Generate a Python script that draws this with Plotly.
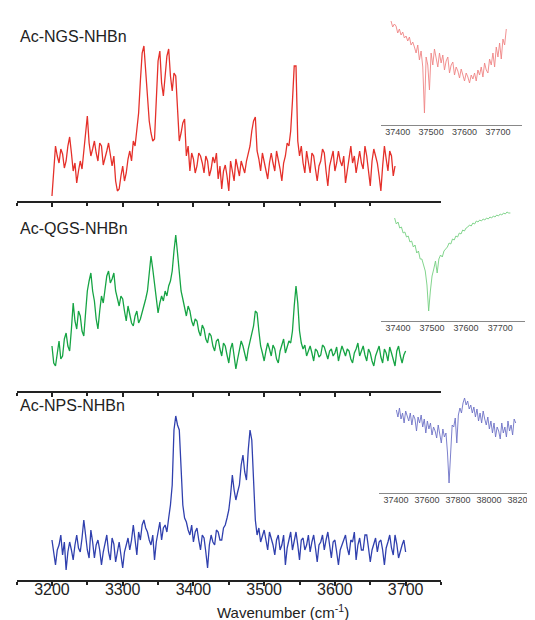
import plotly.graph_objects as go

# ---------------- data ----------------
# main spectra: values read at every 5 cm-1 (main) and at the 2.5 cm-1 midpoints (mid)
wn_start, wn_step = 3200, 5

red_ngs_main = [5, 55, 38, 47, 40, 64, 30, 18, 40, 52, 85, 45, 60, 40, 55, 42, 58, 35, 20, 12,
                35, 28, 50, 60, 72, 120, 155, 95, 68, 62, 140, 118, 130, 152, 110, 125, 60, 78, 45, 30,
                42, 35, 45, 28, 40, 32, 38, 22, 12, 36, 10, 30, 42, 25, 35, 40, 55, 80, 50, 30,
                40, 22, 48, 30, 42, 20, 45, 55, 100, 135, 45, 38, 50, 28, 45, 20, 40, 48, 15, 42,
                30, 50, 35, 18, 45, 38, 28, 50, 32, 45, 15, 52, 38, 10, 55, 30, 45, 35]
red_ngs_mid = [30, 45, 52, 33, 55, 48, 38, 30, 32, 70, 58, 52, 48, 58, 36, 50, 45, 45, 10, 25,
               20, 42, 40, 55, 88, 148, 130, 80, 60, 100, 150, 105, 145, 125, 128, 90, 68, 82, 55, 48,
               28, 48, 38, 45, 25, 44, 48, 35, 30, 25, 40, 20, 35, 40, 28, 48, 70, 84, 42, 48,
               30, 38, 38, 50, 32, 38, 58, 70, 135, 60, 55, 28, 40, 48, 32, 35, 52, 30, 35, 50,
               38, 40, 45, 30, 55, 45, 40, 38, 55, 30, 40, 45, 25, 35, 42, 50, 25]

green_qgs_main = [45, 25, 50, 35, 58, 40, 88, 62, 75, 55, 100, 118, 90, 62, 95, 105, 120, 112, 100, 85,
                  92, 70, 78, 65, 80, 72, 85, 100, 135, 105, 78, 95, 100, 105, 120, 156, 118, 92, 75, 80,
                  65, 70, 55, 62, 48, 55, 40, 52, 35, 45, 28, 48, 22, 40, 45, 30, 50, 65, 78, 45,
                  30, 48, 35, 42, 28, 45, 38, 50, 60, 105, 60, 42, 35, 45, 30, 40, 36, 44, 32, 42,
                  38, 30, 45, 35, 40, 28, 42, 35, 45, 30, 38, 25, 40, 34, 42, 30, 38, 25, 45, 28, 40]
green_qgs_mid = [28, 40, 32, 52, 45, 62, 70, 80, 60, 78, 110, 100, 72, 80, 88, 115, 108, 118, 92, 95,
                 80, 85, 68, 75, 68, 78, 92, 118, 122, 90, 88, 90, 95, 110, 140, 138, 100, 85, 85, 70,
                 72, 60, 66, 52, 58, 45, 50, 42, 48, 36, 42, 35, 32, 50, 38, 42, 58, 80, 60, 38,
                 40, 42, 46, 32, 40, 52, 44, 48, 85, 88, 48, 46, 40, 38, 42, 34, 46, 38, 40, 35,
                 44, 38, 40, 42, 32, 38, 48, 40, 36, 42, 30, 35, 45, 28, 38, 44, 32, 40, 35, 36]

blue_nps_main = [40, 15, 35, 25, 10, 38, 20, 45, 28, 60, 30, 50, 22, 40, 15, 35, 28, 42, 18, 38,
                 12, 35, 30, 55, 25, 40, 60, 48, 35, 20, 50, 40, 55, 62, 95, 164, 150, 75, 58, 45,
                 38, 52, 30, 42, 12, 45, 35, 48, 40, 55, 70, 105, 80, 95, 125, 100, 150, 90, 45, 38,
                 50, 30, 42, 25, 45, 35, 15, 40, 30, 48, 20, 42, 35, 28, 45, 18, 38, 30, 48, 22,
                 40, 15, 35, 45, 25, 38, 20, 42, 30, 45, 18, 35, 28, 40, 15, 38, 32, 45, 22, 35, 28]
blue_nps_mid = [25, 30, 45, 38, 28, 30, 35, 32, 42, 45, 22, 38, 35, 30, 28, 45, 20, 36, 30, 25,
                28, 42, 40, 38, 48, 55, 52, 40, 45, 38, 58, 52, 48, 75, 150, 155, 110, 62, 50, 55,
                48, 40, 45, 28, 35, 38, 50, 40, 52, 62, 85, 90, 88, 115, 108, 130, 140, 60, 52, 45,
                40, 48, 35, 40, 30, 45, 32, 48, 38, 35, 40, 30, 45, 38, 32, 35, 45, 40, 35, 38,
                28, 30, 42, 32, 40, 48, 35, 30, 45, 32, 30, 42, 38, 30, 32, 45, 25, 36, 30, 40]

ins1_start, ins1_step = 37380, 5
inset_ngs = [104, 98, 101, 99, 92, 96, 90, 93, 87, 89, 84, 88, 80, 83, 78, 72, 80, 65, 74, 58,
             12, 68, 60, 35, 72, 60, 76, 66, 58, 72, 62, 70, 55, 64, 68, 52, 60, 63, 50, 58,
             54, 47, 56, 50, 44, 52, 48, 42, 50, 46, 52, 44, 55, 50, 58, 48, 62, 55, 52, 66,
             60, 72, 58, 78, 68, 82, 66, 86, 80, 96]

ins2_start, ins2_step = 37390, 5
inset_qgs = [103, 97, 99, 93, 94, 88, 89, 84, 85, 79, 80, 74, 76, 68, 70, 62, 62, 55, 50, 36,
             10, 30, 45, 52, 60, 48, 62, 66, 64, 70, 72, 74, 78, 77, 82, 81, 85, 84, 88, 87,
             91, 90, 93, 94, 96, 95, 98, 97, 100, 99, 101, 100, 102, 101, 103, 102, 104, 103, 105, 104,
             106, 105, 107, 106, 108, 107, 109, 108, 108]

ins3_start, ins3_step = 37402, 10
inset_nps = [83, 76, 85, 74, 80, 70, 82, 76, 72, 80, 68, 78, 74, 62, 76, 70, 78, 66, 74, 60,
             72, 64, 70, 58, 66, 62, 55, 68, 60, 50, 64, 56, 60, 40, 10, 45, 68, 66, 75, 50,
             78, 85, 80, 90, 95, 88, 92, 84, 88, 80, 86, 76, 84, 72, 80, 70, 82, 74, 68, 76,
             64, 72, 60, 70, 56, 66, 62, 54, 70, 60, 66, 56, 72, 62, 68, 58, 74, 70]

labels = ["Ac-NGS-NHBn", "Ac-QGS-NHBn", "Ac-NPS-NHBn"]
main_ticks = [3200, 3300, 3400, 3500, 3600, 3700]
ins12_ticks = [37400, 37500, 37600, 37700]
ins3_ticks = [37400, 37600, 37800, 38000, 38200]

# ---------------- helpers ----------------
W, H = 535, 620
def px(x):
    return x / W
def py(y):
    return 1 - y / H

def grid(start, step, vals):
    return [start + i * step for i in range(len(vals))]

def interleave(start, step, main, mid):
    xs, ys = [], []
    for i, v in enumerate(main):
        xs.append(start + i * step)
        ys.append(v)
        if i < len(mid) and i < len(main) - 1:
            xs.append(start + i * step + step / 2)
            ys.append(mid[i])
    return xs, ys

fig = go.Figure()

main_series = [(red_ngs_main, red_ngs_mid, "#e5302a"),
               (green_qgs_main, green_qgs_mid, "#16a444"),
               (blue_nps_main, blue_nps_mid, "#3040ae")]
inset_series = [(inset_ngs, ins1_start, ins1_step, "#ef8585"),
                (inset_qgs, ins2_start, ins2_step, "#74cf80"),
                (inset_nps, ins3_start, ins3_step, "#6d72c6")]

for i, (mn, md, col) in enumerate(main_series):
    n = i + 1
    xs, ys = interleave(wn_start, wn_step, mn, md)
    fig.add_trace(go.Scatter(x=xs, y=ys, mode="lines",
                             line=dict(color=col, width=1.3),
                             xaxis="x" if n == 1 else f"x{n}", yaxis="y" if n == 1 else f"y{n}",
                             showlegend=False))
for i, (vals, s, st, col) in enumerate(inset_series):
    n = i + 4
    fig.add_trace(go.Scatter(x=grid(s, st, vals), y=vals, mode="lines",
                             line=dict(color=col, width=0.9),
                             xaxis=f"x{n}", yaxis=f"y{n}", showlegend=False))

FONT = "Arial, Liberation Sans, Helvetica, sans-serif"
# main panels: (bottom_px, top_px)
panels = [(193, 3), (383, 193), (572, 383)]
main_dom = [px(8.6), px(433)]
layout = {}
for i, (b, t) in enumerate(panels):
    n = i + 1
    xk = "xaxis" if n == 1 else f"xaxis{n}"
    yk = "yaxis" if n == 1 else f"yaxis{n}"
    ya = "y" if n == 1 else f"y{n}"
    layout[xk] = dict(domain=main_dom, range=[3150, 3750], anchor=ya,
                      showline=True, linecolor="#222", linewidth=1.5,
                      ticks="outside", ticklen=4, tickwidth=1.5, tickcolor="#222",
                      tickvals=main_ticks, showgrid=False, zeroline=False,
                      showticklabels=(n == 3), ticklabelstandoff=-10,
                      tickfont=dict(family=FONT, size=16, color="#222"),
                      minor=dict(dtick=50, tick0=3150, ticks="outside", ticklen=3,
                                 tickcolor="#222", showgrid=False))
    layout[yk] = dict(domain=[py(b), py(t)], range=[0, b - t], visible=False,
                      anchor="x" if n == 1 else f"x{n}", fixedrange=True)

insets = [  # (x0_px, x1_px, bottom_px, top_px, xrange, ticks)
    (373, 514, 117, 5, [37350, 37772], ins12_ticks),
    (373, 517, 313, 195, [37350, 37773], ins12_ticks),
    (371, 535, 485, 385, [37290, 38348], ins3_ticks),
]
for i, (x0, x1, b, t, xr, tv) in enumerate(insets):
    n = i + 4
    layout[f"xaxis{n}"] = dict(domain=[px(x0), px(x1)], range=xr, anchor=f"y{n}",
                               showline=True, linecolor="#888", linewidth=1,
                               ticks="", tickvals=tv, tickformat="d",
                               showgrid=False, zeroline=False, ticklabelstandoff=-2,
                               tickfont=dict(family=FONT, size=9, color="#444"))
    layout[f"yaxis{n}"] = dict(domain=[py(b), py(t)], range=[0, b - t], visible=False,
                               anchor=f"x{n}")

annos = []
for lab, ypx in zip(labels, [28, 220, 397]):
    annos.append(dict(x=px(10), y=py(ypx), xref="paper", yref="paper", text=lab,
                      showarrow=False, xanchor="left", yanchor="middle",
                      font=dict(family=FONT, size=16, color="#222")))
annos.append(dict(x=px(275), y=py(603), xref="paper", yref="paper",
                  text="Wavenumber (cm<sup>-1</sup>)", showarrow=False,
                  xanchor="center", yanchor="middle",
                  font=dict(family=FONT, size=15, color="#222")))

fig.update_layout(width=W, height=H, margin=dict(l=0, r=0, t=0, b=0),
                  paper_bgcolor="white", plot_bgcolor="white",
                  annotations=annos, **layout)

fig.write_html("out.html")
